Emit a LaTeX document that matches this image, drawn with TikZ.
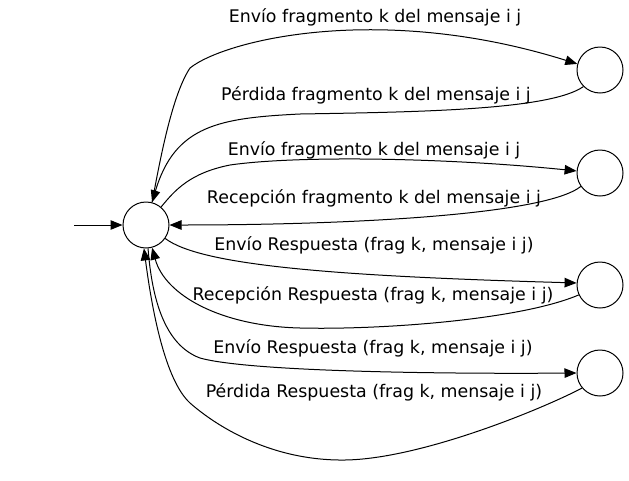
\documentclass[tikz,border=0pt]{standalone}
\usepackage{fontspec}
\setmainfont{DejaVu Sans}
\usetikzlibrary{arrows.meta}

\begin{document}
\begin{tikzpicture}[x=1pt,y=-1pt,
  estado/.style={circle,draw,line width=1pt,minimum size=46pt,inner sep=0pt},
  etiqueta/.style={anchor=base,inner sep=0pt,font=\fontsize{17.4}{20}\selectfont},
  flecha/.style={line width=1pt,-{Triangle[length=12pt,width=9.5pt]}}]
  \useasboundingbox (0,0) rectangle (629,480);
  \node[estado] (q0) at (146,225) {};
  \node[estado] (q1) at (600,70) {};
  \node[estado] (q2) at (600,173) {};
  \node[estado] (q3) at (600,285) {};
  \node[estado] (q4) at (600,373) {};
  \coordinate (ini) at (74,225);

  \draw[flecha] (ini) -- (q0);
  \draw[flecha] (q0.75) .. controls (160,160) and (172,95) .. (190,68)
    .. controls (225,40) and (380,2) .. (q1.165);
  \draw[flecha] (q1.225) .. controls (550,110) and (420,112) .. (300,114)
    .. controls (220,118) and (175,125) .. (q0.75);
  \draw[flecha] (q0.50) .. controls (175,190) and (190,173) .. (230,165)
    .. controls (300,155) and (450,158) .. (q2.175);
  \draw[flecha] (q2.215) .. controls (545,215) and (350,225) .. (q0.east);
  \draw[flecha] (q0.-35) .. controls (200,265) and (330,276) .. (q3.175);
  \draw[flecha] (q3.205) .. controls (520,320) and (380,330) .. (300,328)
    .. controls (220,326) and (165,295) .. (q0.-75);
  \draw[flecha] (q0.-85) .. controls (152,300) and (165,345) .. (200,358)
    .. controls (250,372) and (450,374) .. (q4.180);
  \draw[flecha] (q4.220) .. controls (540,410) and (420,459) .. (345,460)
    .. controls (270,461) and (215,425) .. (190,403)
    .. controls (165,380) and (152,310) .. (q0.-95);

  \node[etiqueta] (l1) at (375,22) {Envío fragmento k del mensaje i j};
  \node[etiqueta] (l2) at (376,100) {Pérdida fragmento k del mensaje i j};
  \node[etiqueta] (l3) at (374,155) {Envío fragmento k del mensaje i j};
  \node[etiqueta] (l4) at (374,203) {Recepción fragmento k del mensaje i j};
  \node[etiqueta] (l5) at (374,250) {Envío Respuesta (frag k, mensaje i j)};
  \node[etiqueta] (l6) at (373,300) {Recepción Respuesta (frag k, mensaje i j)};
  \node[etiqueta] (l7) at (373,353) {Envío Respuesta (frag k, mensaje i j)};
  \node[etiqueta] (l8) at (374,397) {Pérdida Respuesta (frag k, mensaje i j)};
\end{tikzpicture}
\end{document}
